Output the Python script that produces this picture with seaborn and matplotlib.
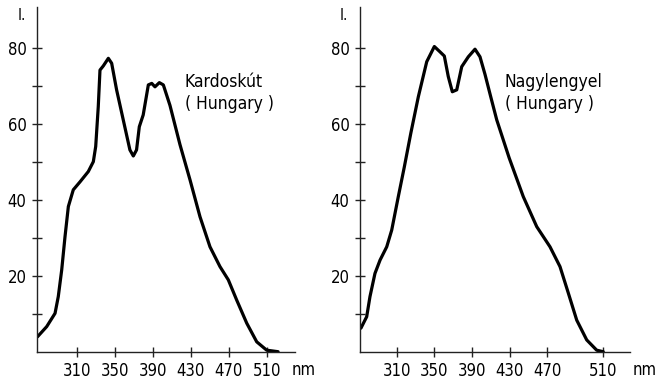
import matplotlib
matplotlib.use("Agg")
import matplotlib.pyplot as plt
import seaborn as sns
import pandas as pd

sns.set_style("ticks")
plt.rcParams['font.family'] = ['DejaVu Sans']
plt.rcParams['font.stretch'] = 'condensed'
plt.rcParams['text.color'] = 'black'
plt.rcParams['xtick.labelcolor'] = 'black'
plt.rcParams['ytick.labelcolor'] = 'black'

# Kardoskút (Hungary)
kard_nm = [268.6, 278.4, 287.2, 290.6, 294.2, 297.7, 301.2, 306.4, 313.5, 322.2, 327.5, 330,
           332.7, 334.5, 338, 343.3, 346.8, 352, 359, 366, 369.6, 373, 375.9, 380, 385.4,
           389, 392.4, 397, 401.2, 408.2, 418.7, 429.3, 439.8, 450.3, 460.8, 469.6, 478.4,
           489, 499.5, 510, 522]
kard_val = [3.9, 6.6, 10.1, 14.5, 21.5, 30.3, 38.2, 42.6, 44.7, 47.4, 50, 54,
            64.5, 74.1, 75.2, 77.2, 75.9, 68.9, 61, 53.1, 51.5, 53.1, 59.2, 62.3, 70.2,
            70.6, 69.7, 70.8, 70.2, 64.8, 54.5, 45.2, 35.5, 27.6, 22.4, 18.9, 13.6,
            7.5, 2.6, 0.4, 0]

# Nagylengyel (Hungary)
nagy_nm = [272, 278.1, 281.6, 286.9, 292.3, 299.4, 304.7, 311.7, 318, 325, 333, 341.9, 350,
           356, 360.6, 364.8, 369.1, 373.8, 379.1, 386.1, 393.2, 398.5, 403.8, 410, 416.3,
           429.5, 444.5, 458.8, 472.9, 483.5, 492.4, 501.3, 511.9, 522.5, 529.5]
nagy_val = [6.2, 9.2, 14.5, 20.6, 24.1, 27.6, 32, 40.8, 48.5, 57.5, 67.1, 76.3, 80.3,
            78.9, 77.8, 72.4, 68.4, 68.9, 75, 77.6, 79.6, 77.6, 73, 67, 61,
            51, 40.8, 32.9, 27.6, 22.4, 15.4, 8.3, 3.1, 0.4, 0]

left_xticks = [310, 350, 390, 430, 470, 510]
left_xlabels = ["310", "350", "390", "430", "470", "510"]
right_xticks = [310, 350, 390, 430, 470, 529]
right_xlabels = ["310", "350", "390", "430", "470", "510"]
yticks = [10, 20, 30, 40, 50, 60, 70, 80]
ylabels = ["", "20", "", "40", "", "60", "", "80"]

fig = plt.figure(figsize=(6.59, 3.83), dpi=100)
ax1 = fig.add_axes([37/659, 1-351.7/383, 258/659, (351.7-7)/383])
ax2 = fig.add_axes([360/659, 1-351.7/383, 270/659, (351.7-7)/383])

df1 = pd.DataFrame({"nm": kard_nm, "I": kard_val})
df2 = pd.DataFrame({"nm": nagy_nm, "I": nagy_val})

panels = [
    (ax1, df1, (268.2, 539.8), left_xticks, left_xlabels, ["Kardoskút", "( Hungary )"], 424, 0.985),
    (ax2, df2, (271.0, 557.9), right_xticks, right_xlabels, ["Nagylengyel", "( Hungary )"], 425, 1.01),
]
for ax, df, xl, xt, xlab, txt, tx, nmx in panels:
    sns.lineplot(data=df, x="nm", y="I", ax=ax, color="black", linewidth=2.3,
                 solid_joinstyle="round", solid_capstyle="round")
    ax.set_xlim(*xl)
    ax.set_ylim(0, 90.7)
    ax.set_xticks(xt)
    ax.set_xticklabels(xlab)
    ax.set_yticks(yticks)
    ax.set_yticklabels(ylabels)
    ax.set_xlabel("")
    ax.set_ylabel("")
    sns.despine(ax=ax)
    for s in ["left", "bottom"]:
        ax.spines[s].set_linewidth(1.0)
        ax.spines[s].set_color("#222222")
    ax.tick_params(direction="inout", length=7, width=1.0, color="#222222",
                   labelsize=12, pad=4)
    ax.text(tx, 71, txt[0], fontsize=12.5, va="center", ha="left")
    ax.text(tx, 65.3, txt[1], fontsize=12.5, va="center", ha="left")
    ax.text(nmx, -0.054, "nm", transform=ax.transAxes, fontsize=12, va="center", ha="left")
    ax.text(-0.06, 0.975, "I.", transform=ax.transAxes, fontsize=11, va="center", ha="center")

fig.savefig("out.png", dpi=100)
